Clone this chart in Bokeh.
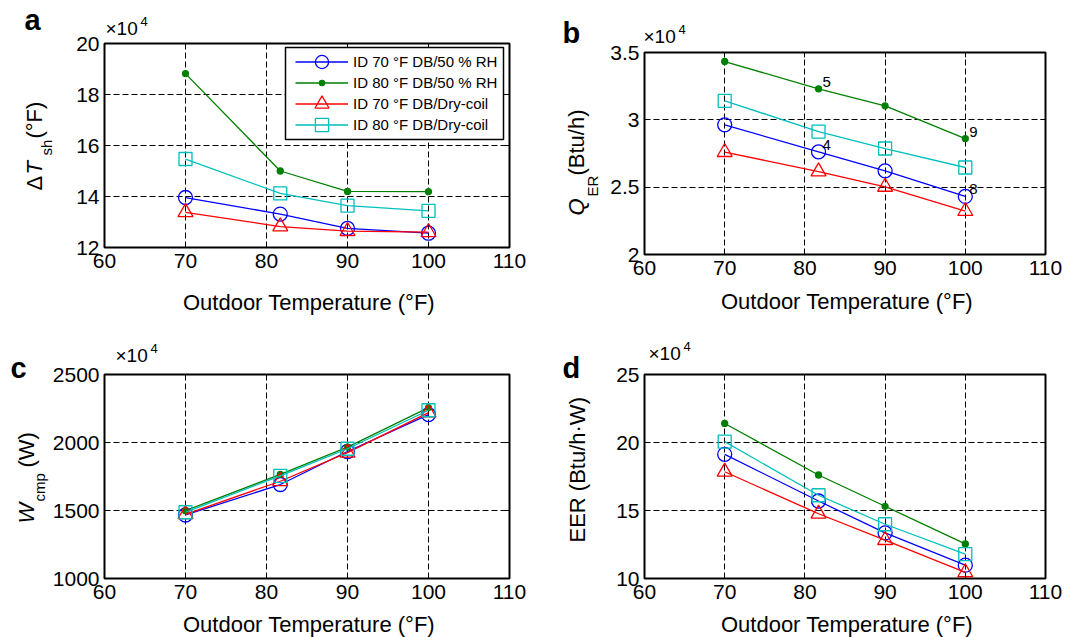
import math
from bokeh.plotting import figure
from bokeh.models import (Range1d, FixedTicker, Label, Legend, LegendItem, LinearAxis,
                          BoxAnnotation, ColumnDataSource, GridBox, Spacer)
from bokeh.layouts import column, row
from bokeh.embed import file_html
from bokeh.resources import INLINE
from bokeh.core.properties import value

# ---------------- data ----------------
outdoor_temp = [70, 81.7, 90, 100]
series_names = ["ID 70 °F DB/50 % RH", "ID 80 °F DB/50 % RH",
                "ID 70 °F DB/Dry-coil", "ID 80 °F DB/Dry-coil"]

dtsh_70_50 = [13.96, 13.31, 12.75, 12.56]
dtsh_80_50 = [18.82, 15.00, 14.20, 14.19]
dtsh_70_dry = [13.38, 12.82, 12.64, 12.60]
dtsh_80_dry = [15.47, 14.12, 13.64, 13.44]

qer_70_50 = [2.963, 2.762, 2.621, 2.431]
qer_80_50 = [3.433, 3.230, 3.104, 2.861]
qer_70_dry = [2.760, 2.616, 2.502, 2.322]
qer_80_dry = [3.141, 2.913, 2.787, 2.646]

wcmp_70_50 = [1467, 1691, 1934, 2205]
wcmp_80_50 = [1499, 1765, 1966, 2257]
wcmp_70_dry = [1472, 1715, 1925, 2220]
wcmp_80_dry = [1487, 1755, 1954, 2237]

eer_70_50 = [19.13, 15.70, 13.35, 10.98]
eer_80_50 = [21.40, 17.61, 15.31, 12.54]
eer_70_dry = [17.85, 14.76, 12.82, 10.45]
eer_80_dry = [20.06, 16.12, 13.99, 11.79]

x_ticks = [60, 70, 80, 90, 100, 110]
x_tick_labels = ["60", "70", "80", "90", "100", "110"]
a_y_ticks = [12, 14, 16, 18, 20]
a_y_tick_labels = ["12", "14", "16", "18", "20"]
b_y_ticks = [2, 2.5, 3, 3.5]
b_y_tick_labels = ["2", "2.5", "3", "3.5"]
c_y_ticks = [1000, 1500, 2000, 2500]
c_y_tick_labels = ["1000", "1500", "2000", "2500"]
d_y_ticks = [10, 15, 20, 25]
d_y_tick_labels = ["10", "15", "20", "25"]

# point labels in panel b: (text, series index, point index)
b_point_labels = ["5", "9", "4", "8"]
b_point_series = [1, 1, 0, 0]
b_point_index = [1, 3, 1, 3]

x_label = "Outdoor Temperature (°F)"

# ---------------- styles / layout ----------------
FONT = "Liberation Sans"
COLORS = ["#0000FF", "#008000", "#FF0000", "#00BFBF"]
MARKERS = ["circle", "circle", "triangle", "square"]
SIZES = [14, 6, 15, 13]
LEG_GLYPH = [33, 13, 35, 33]          # legend glyph box -> marker size = 0.4 * box
FILLS = [False, True, False, False]
BASE_SHIFT = 0.35                     # label anchor -> glyph baseline offset (em)

PAGE_W, PAGE_H = 1069, 637
# canvas (x, y, w, h) and frame (left, top, w, h) in page pixels
PANELS = {
    "a": dict(canvas=(0, 0, 540, 313), frame=(104, 43, 405, 204)),
    "b": dict(canvas=(540, 9, 529, 311), frame=(644, 52, 401, 202)),
    "c": dict(canvas=(0, 320, 540, 317), frame=(104, 374, 405, 204)),
    "d": dict(canvas=(540, 320, 529, 317), frame=(644, 374, 401, 204)),
}


def make_panel(key, yr, yticks, ylabels):
    cx, cy, cw, ch = PANELS[key]["canvas"]
    L, T, W, H = PANELS[key]["frame"]
    p = figure(frame_width=W, frame_height=H,
               min_border_left=L - cx, min_border_top=T - cy,
               min_border_right=cx + cw - (L + W), min_border_bottom=cy + ch - (T + H),
               x_range=Range1d(60, 110), y_range=Range1d(*yr),
               output_backend="svg", toolbar_location=None,
               background_fill_color="white", border_fill_color="white",
               outline_line_color="black", outline_line_width=2)
    p.xaxis.ticker = FixedTicker(ticks=x_ticks)
    p.yaxis.ticker = FixedTicker(ticks=yticks)
    p.xaxis.major_label_overrides = {t: s for t, s in zip(x_ticks, x_tick_labels)}
    p.yaxis.major_label_overrides = {t: s for t, s in zip(yticks, ylabels)}
    for ax in (p.xaxis[0], p.yaxis[0]):
        ax.axis_line_color = None
        ax.major_tick_in = 5
        ax.major_tick_out = 0
        ax.major_tick_line_color = "black"
        ax.minor_tick_line_color = None
        ax.major_label_text_font = FONT
        ax.major_label_text_font_size = "21px"
        ax.major_label_text_color = "black"
    p.xaxis.major_label_standoff = 6
    p.yaxis.major_label_standoff = 5
    # mirrored inner ticks on the top and right edges of the box
    for place, tk in (("above", x_ticks), ("right", yticks)):
        p.add_layout(LinearAxis(ticker=FixedTicker(ticks=tk), axis_line_color=None,
                                major_tick_in=5, major_tick_out=0,
                                major_tick_line_color="black",
                                minor_tick_line_color=None,
                                major_label_text_font_size="1px",
                                major_label_text_alpha=0, major_label_standoff=0), place)
    for g, tk in ((p.xgrid, x_ticks), (p.ygrid, yticks)):
        g.ticker = FixedTicker(ticks=tk)
        g.grid_line_color = "black"
        g.grid_line_dash = "6 3"
        g.grid_line_width = 1
    return p


def draw_series(p, ys_list):
    rends = []
    for ys, color, marker, size, fill in zip(ys_list, COLORS, MARKERS, SIZES, FILLS):
        src = ColumnDataSource(dict(x=outdoor_temp, y=ys))
        ln = p.line("x", "y", source=src, line_color=color, line_width=1.3)
        sc = p.scatter("x", "y", source=src, marker=marker, size=size,
                       line_color=color, fill_color=color if fill else None,
                       line_width=1.3)
        rends.append((ln, sc))
    return rends


# ---------- panel a ----------
pa = make_panel("a", (12, 20), a_y_ticks, a_y_tick_labels)
ra = draw_series(pa, [dtsh_70_50, dtsh_80_50, dtsh_70_dry, dtsh_80_dry])

L, T, W, H = PANELS["a"]["frame"]
def px2x(px): return 60 + (px - L) / W * 50
def py2y(py): return 20 - (py - T) / H * 8
pa.add_layout(BoxAnnotation(left=px2x(285), right=px2x(503), top=py2y(47), bottom=py2y(139),
                            fill_color="white", fill_alpha=1.0,
                            line_color="black", line_width=1.5, line_alpha=1.0))
ROW0, ROWSTEP, ROWH = 61, 21, 21
GX = 295 - L
leg = Legend(items=[LegendItem(label=n, renderers=[ra[i][0]]) for i, n in enumerate(series_names)],
             location=(GX, (T + H) - (ROW0 - ROWH / 2 + 4 * ROWH)), orientation="vertical",
             glyph_width=53, glyph_height=ROWH, label_height=ROWH, spacing=0,
             padding=0, margin=0, label_standoff=5,
             label_text_font=FONT, label_text_font_size="15px", label_text_color="black",
             border_line_color=None, background_fill_alpha=0)
pa.add_layout(leg)
for i in range(4):
    g = LEG_GLYPH[i]
    yc = ROW0 + i * ROWSTEP
    pa.add_layout(Legend(items=[LegendItem(label=" ", renderers=[ra[i][1]])],
                         location=(GX, (T + H) - (yc + g / 2)), orientation="vertical",
                         glyph_width=53, glyph_height=g, label_height=g, label_width=0,
                         spacing=0, padding=0, margin=0, label_standoff=0,
                         label_text_font_size="1px",
                         border_line_color=None, background_fill_alpha=0))

# ---------- panel b ----------
pb = make_panel("b", (2, 3.5), b_y_ticks, b_y_tick_labels)
b_series = [qer_70_50, qer_80_50, qer_70_dry, qer_80_dry]
draw_series(pb, b_series)
lab_src = ColumnDataSource(dict(
    x=[outdoor_temp[j] for j in b_point_index],
    y=[b_series[s][j] for s, j in zip(b_point_series, b_point_index)],
    t=b_point_labels))
pb.text("x", "y", text="t", source=lab_src, x_offset=4, y_offset=-7,
        text_font=value(FONT), text_font_size="15px", text_color="black",
        text_baseline="alphabetic", text_align="left")

# ---------- panel c ----------
pc = make_panel("c", (1000, 2500), c_y_ticks, c_y_tick_labels)
draw_series(pc, [wcmp_70_50, wcmp_80_50, wcmp_70_dry, wcmp_80_dry])

# ---------- panel d ----------
pd_ = make_panel("d", (10, 25), d_y_ticks, d_y_tick_labels)
draw_series(pd_, [eer_70_50, eer_80_50, eer_70_dry, eer_80_dry])

# ---------- transparent text overlay (page pixel coordinates) ----------
ov = figure(width=PAGE_W, height=PAGE_H, x_range=Range1d(0, PAGE_W), y_range=Range1d(PAGE_H, 0),
            min_border=0, toolbar_location=None, output_backend="svg",
            background_fill_alpha=0, border_fill_alpha=0, outline_line_color=None)
ov.axis.visible = False
ov.grid.visible = False


def put(x, y, text, size, style="normal", angle=0.0, align="left"):
    """(x, y) is where the glyph baseline should start; rotated texts read upward."""
    if angle:
        x = x - BASE_SHIFT * size
    else:
        y = y - BASE_SHIFT * size
    ov.add_layout(Label(x=x, y=y, text=text, angle=angle, text_align=align,
                        text_baseline="alphabetic", text_font=FONT,
                        text_font_size=f"{size}px", text_font_style=style,
                        text_color="black"))


R = math.pi / 2
for key, letter, lxy, x10, xl_base in (
        ("a", "a", (24, 30), (105, 35), 310),
        ("b", "b", (562, 43), (643, 43), 309),
        ("c", "c", (10, 378), (115, 362), 632),
        ("d", "d", (562, 378), (648, 360), 632)):
    fL, fT, fW, fH = PANELS[key]["frame"]
    put(lxy[0], lxy[1], letter, 29, "bold")
    put(x10[0], x10[1], "×10", 19)
    put(x10[0] + 35, x10[1] - 9, "4", 13)
    put(fL + fW / 2 + 2, xl_base, x_label, 22, align="center")

# y labels (rotated, reading bottom to top)
put(42, 190, "Δ", 22, angle=R)
put(42, 174, "T", 22, "italic", angle=R)
put(51, 155, "sh", 15, angle=R)
put(42, 138, "(°F)", 22, angle=R)

put(584, 215, "Q", 22, "italic", angle=R)
put(597, 196, "ER", 15, angle=R)
put(584, 175, "(Btu/h)", 22, angle=R)

put(34, 523, "W", 22, "italic", angle=R)
put(44, 501, "cmp", 15, angle=R)
put(34, 467, "(W)", 22, angle=R)

put(585, 542, "EER (Btu/h·W)", 22, angle=R)

ca = PANELS["a"]["canvas"]
cb = PANELS["b"]["canvas"]
top_row = row(column(pa, Spacer(width=ca[2], height=320 - ca[3])),
              column(Spacer(width=cb[2], height=cb[1]), pb))
panels = column(top_row, row(pc, pd_))
layout = GridBox(children=[(panels, 0, 0), (ov, 0, 0)])
open("out.html", "w").write(file_html(layout, INLINE))
